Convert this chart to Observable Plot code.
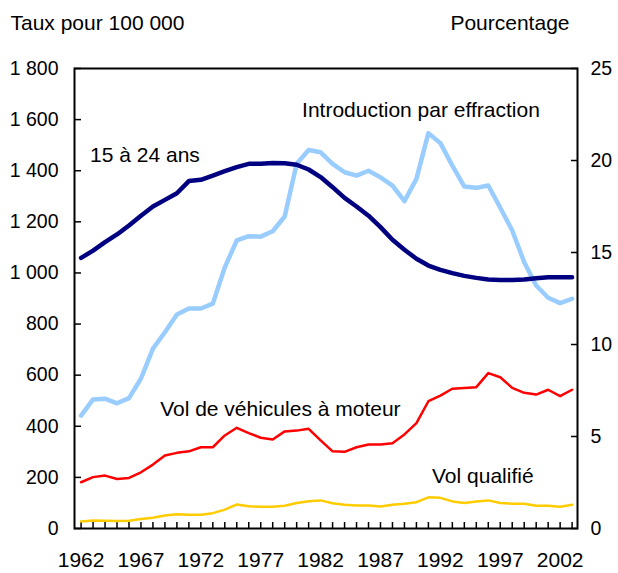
<!DOCTYPE html>
<html>
<head>
<meta charset="utf-8">
<script src="https://cdn.jsdelivr.net/npm/d3@7"></script>
<script src="https://cdn.jsdelivr.net/npm/@observablehq/plot@0.6"></script>
<style>
  html, body { margin: 0; padding: 0; background: white; }
</style>
</head>
<body>
<div id="chart"></div>
<script>
const years = d3.range(1962, 2004);
// Taux pour 100 000
const effraction = [442,505,508,490,510,587,704,768,837,861,
  861,880,1022,1127,1144,1142,1163,1221,1427,1481,
  1472,1427,1394,1381,1400,1374,1342,1281,1368,1547,
  1508,1420,1338,1333,1342,1255,1166,1042,951,903,
  882,899];
const vehicules = [181,201,207,194,198,220,250,286,296,302,
  318,318,364,394,373,355,348,380,383,390,
  345,302,300,318,329,329,334,368,412,498,
  520,547,550,553,608,592,550,531,524,543,
  518,543];
const qualifie = [27,31,30,29,30,37,42,51,56,54,
  54,60,74,94,87,85,85,89,100,107,
  110,99,93,90,90,86,93,97,103,122,
  120,106,100,106,110,100,97,97,89,89,
  85,93];
// Pourcentage (15 à 24 ans)
const jeunes = [14.71,15.1,15.56,15.98,16.47,17.0,17.5,17.86,18.22,18.88,
  18.95,19.18,19.42,19.64,19.82,19.82,19.87,19.85,19.77,19.51,
  19.1,18.55,17.97,17.5,17.0,16.38,15.69,15.15,14.66,14.29,
  14.06,13.88,13.73,13.62,13.53,13.5,13.5,13.53,13.6,13.66,
  13.66,13.66];

const leftTicks = d3.range(0, 1801, 200);
const rightTicks = [0, 5, 10, 15, 20, 25];
const yearTicks = years;
const yearLabels = d3.range(1962, 2004, 5);

const labels = [
  {text: "15 à 24 ans", year: 1962.75, value: 1462},
  {text: "Introduction par effraction", year: 1980.45, value: 1638},
  {text: "Vol de véhicules à moteur", year: 1968.6, value: 465},
  {text: "Vol qualifié", year: 1991.3, value: 203}
];

const ratio = 1800 / 25;
const rows = (arr, k = 1) => years.map((y, i) => ({year: y, value: arr[i] * k}));

const fmt = d => d >= 1000 ? `${Math.floor(d / 1000)} ${String(d % 1000).padStart(3, "0")}` : `${d}`;
const font = "Liberation Sans, Arial, Helvetica, sans-serif";

const chart = Plot.plot({
  width: 618,
  height: 573,
  marginLeft: 74,
  marginRight: 41,
  marginTop: 68,
  marginBottom: 45,
  style: {fontFamily: font, fontSize: "19px", background: "white", color: "black"},
  x: {domain: [1961.45, 2003.45]},
  y: {domain: [0, 1800]},
  marks: [
    Plot.axisY({ticks: leftTicks, tickSize: -7, tickFormat: () => "", label: null, strokeWidth: 1.5}),
    Plot.axisY({ticks: leftTicks, tickSize: 0, tickPadding: 16, tickFormat: fmt, label: null, fontSize: 19.5}),
    Plot.axisY({anchor: "right", ticks: rightTicks.map(d => d * ratio), tickSize: -7, tickFormat: () => "", label: null, strokeWidth: 1.5}),
    Plot.axisY({anchor: "right", ticks: rightTicks.map(d => d * ratio), tickSize: 0, tickPadding: 13, tickFormat: d => `${Math.round(d / ratio)}`, label: null, fontSize: 19.5}),
    Plot.axisX({ticks: yearTicks, tickSize: -6, tickFormat: () => "", label: null, strokeWidth: 1.5}),
    Plot.axisX({ticks: yearLabels, tickSize: 0, tickPadding: 24, tickFormat: d => `${d}`, label: null, fontSize: 21}),
    Plot.lineY(rows(effraction), {x: "year", y: "value", stroke: "#99ccff", strokeWidth: 4.5, strokeLinejoin: "round"}),
    Plot.lineY(rows(vehicules), {x: "year", y: "value", stroke: "#ff0000", strokeWidth: 2.5, strokeLinejoin: "round"}),
    Plot.lineY(rows(qualifie), {x: "year", y: "value", stroke: "#ffcc00", strokeWidth: 2.5, strokeLinejoin: "round"}),
    Plot.lineY(rows(jeunes, ratio), {x: "year", y: "value", stroke: "#000080", strokeWidth: 4.5, strokeLinejoin: "round"}),
    Plot.frame({stroke: "black", strokeWidth: 2}),
    Plot.text(labels, {x: "year", y: "value", text: "text", textAnchor: "start", fontSize: 21, fill: "black"}),
    Plot.text(["Taux pour 100 000"], {frameAnchor: "top-left", text: d => d, textAnchor: "start", dx: -64, dy: -53, fontSize: 21, fill: "black"}),
    Plot.text(["Pourcentage"], {frameAnchor: "top-right", text: d => d, textAnchor: "end", dx: -8, dy: -53, fontSize: 21, fill: "black"})
  ]
});
document.getElementById("chart").appendChild(chart);
</script>
</body>
</html>
